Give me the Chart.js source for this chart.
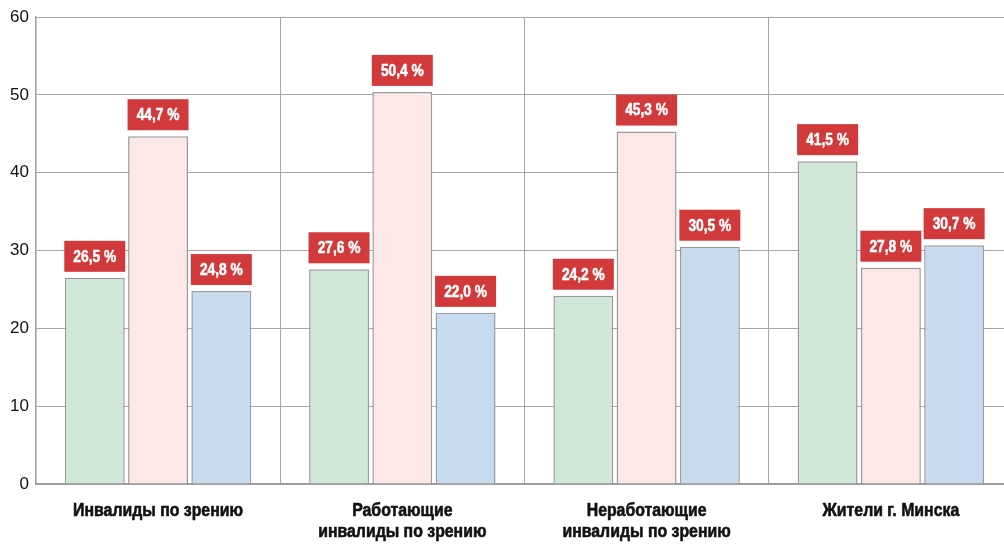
<!DOCTYPE html>
<html>
<head>
<meta charset="utf-8">
<script src="https://cdn.jsdelivr.net/npm/chart.js@4/dist/chart.umd.min.js"></script>
<style>
html,body{margin:0;padding:0;background:#fff;overflow:hidden;}
#outer{width:1004px;height:544px;overflow:hidden;position:relative;}
#inner{width:1014px;height:544px;position:absolute;left:0;top:0;}
</style>
</head>
<body>
<div id="outer"><div id="inner"><canvas id="c"></canvas></div></div>
<script>
const categories = [
  ["Инвалиды по зрению"],
  ["Работающие", "инвалиды по зрению"],
  ["Неработающие", "инвалиды по зрению"],
  ["Жители г. Минска"]
];
const seriesGreen = [26.5, 27.6, 24.2, 41.5];
const seriesPink = [44.7, 50.4, 45.3, 27.8];
const seriesBlue = [24.8, 22.0, 30.5, 30.7];
const yTicks = [0, 10, 20, 30, 40, 50, 60];

const FONT = '"Liberation Sans", Arial, sans-serif';
const gridColor = '#a6a6a6';
const barBorder = '#9a9a9a';

function condensedText(ctx, text, x, y, scale, strokeW) {
  ctx.save();
  ctx.translate(x, y);
  ctx.scale(scale, 1);
  if (strokeW) {
    ctx.lineWidth = strokeW;
    ctx.strokeStyle = ctx.fillStyle;
    ctx.lineJoin = 'round';
    ctx.strokeText(text, 0, 0);
  }
  ctx.fillText(text, 0, 0);
  ctx.restore();
}

const labelPlugin = {
  id: 'valueBoxes',
  afterDatasetsDraw(chart) {
    const ctx = chart.ctx;
    ctx.save();
    chart.data.datasets.forEach((ds, di) => {
      const meta = chart.getDatasetMeta(di);
      meta.data.forEach((bar, i) => {
        const v = ds.data[i];
        const w = 61, h = 31, gap = 6;
        const x = bar.x - w / 2;
        const y = bar.y - gap - h;
        ctx.fillStyle = '#d1393a';
        ctx.fillRect(x, y, w, h);
        ctx.fillStyle = '#ffffff';
        ctx.font = 'bold 16px ' + FONT;
        ctx.textAlign = 'center';
        ctx.textBaseline = 'middle';
        condensedText(ctx, v.toFixed(1).replace('.', ',') + ' %', bar.x, y + h / 2 + 1, 0.86, 0.5);
      });
    });
    ctx.restore();
  }
};

const xLabelPlugin = {
  id: 'xLabels',
  afterDraw(chart) {
    const ctx = chart.ctx;
    const xs = chart.scales.x;
    const bottom = chart.chartArea.bottom;
    ctx.save();
    ctx.fillStyle = '#111';
    ctx.font = 'bold 18px ' + FONT;
    ctx.textAlign = 'center';
    ctx.textBaseline = 'middle';
    categories.forEach((lines, i) => {
      const cx = xs.getPixelForTick(i);
      lines.forEach((ln, j) => {
        condensedText(ctx, ln, cx, bottom + 27 + j * 21, 0.88, 0.6);
      });
    });
    ctx.restore();
  }
};

new Chart(document.getElementById('c'), {
  type: 'bar',
  data: {
    labels: categories.map(l => l.join(' ')),
    datasets: [
      { data: seriesGreen, backgroundColor: '#cfe7d7', borderColor: barBorder, borderWidth: 1.5 },
      { data: seriesPink, backgroundColor: '#fde7e7', borderColor: barBorder, borderWidth: 1.5 },
      { data: seriesBlue, backgroundColor: '#c7dbf0', borderColor: barBorder, borderWidth: 1.5 }
    ]
  },
  options: {
    responsive: true,
    maintainAspectRatio: false,
    animation: false,
    events: [],
    layout: { padding: { left: 3, right: 1, top: 16, bottom: 60 } },
    datasets: { bar: { categoryPercentage: 0.777, barPercentage: 0.947 } },
    plugins: { legend: { display: false }, tooltip: { enabled: false } },
    scales: {
      x: {
        grid: { color: gridColor, lineWidth: 1, tickLength: 0, offset: true },
        border: { color: '#999', width: 1.5 },
        ticks: { display: false }
      },
      y: {
        min: 0, max: 60,
        afterBuildTicks(axis) { axis.ticks = yTicks.map(v => ({ value: v })); },
        grid: { color: gridColor, lineWidth: 1, tickLength: 0 },
        border: { color: '#999', width: 1.5 },
        ticks: { color: '#111', font: { family: FONT, size: 17 }, padding: 7 }
      }
    }
  },
  plugins: [labelPlugin, xLabelPlugin]
});
</script>
</body>
</html>
